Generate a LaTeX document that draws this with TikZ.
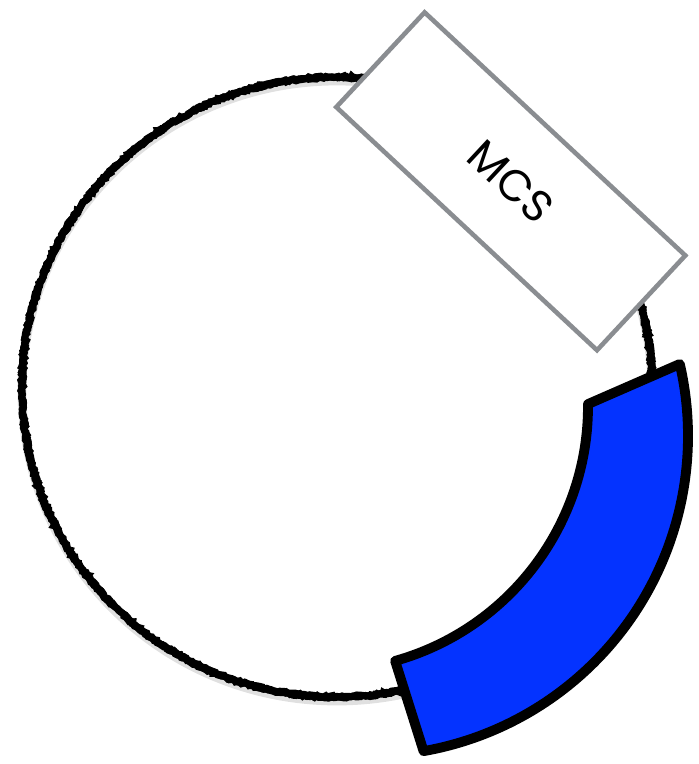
\documentclass[tikz,border=0pt]{standalone}
\usepackage{fontspec}
\newfontfamily\labelfont{Poppins}
\usetikzlibrary{decorations.pathmorphing,calc}
\definecolor{featblue}{RGB}{4,51,255}
\definecolor{boxgray}{RGB}{138,141,145}

\begin{document}
\begin{tikzpicture}[
    backbone/.style={line width=3.8pt,black,decorate,decoration={random steps,segment length=1.6pt,amplitude=0.8pt}},
    mcsbox/.style={draw=boxgray,line width=2.6pt,fill=white,minimum width=7.13cm,minimum height=2.59cm,inner sep=0pt,rotate=-43,font=\labelfont\fontsize{25}{25}\selectfont},
    feature/.style={draw=black,line width=5.6pt,line join=round,fill=featblue}]
  \useasboundingbox (0,0) rectangle (13.96,15.28);
  % plasmid backbone
  \coordinate (ori) at (6.74,7.54);
  \draw[black!12,line width=5pt] ($(ori)+(0,-0.08)$) ellipse [x radius=6.3,y radius=6.2];
  \foreach \s in {1,2,3}{
      \pgfmathsetseed{\s7}
      \draw[backbone] (ori) ellipse [x radius=6.3,y radius=6.2];
  }
  % multiple cloning site
  \node[mcsbox] (mcs) at (10.216,11.654) {MCS};
  % blue feature
  \coordinate (inc) at (6.472,7.152);
  \coordinate (outc) at (7.36,6.56);
  \coordinate (fb) at ($(outc)+(13:6.4)$);
  \coordinate (fd) at ($(inc)+(-74.3:5.288)$);
  \draw[feature] (fd) arc[start angle=-74.3,end angle=0.5,radius=5.288] -- (fb)
      arc[start angle=13,end angle=-80,radius=6.4] -- cycle;
\end{tikzpicture}
\end{document}
